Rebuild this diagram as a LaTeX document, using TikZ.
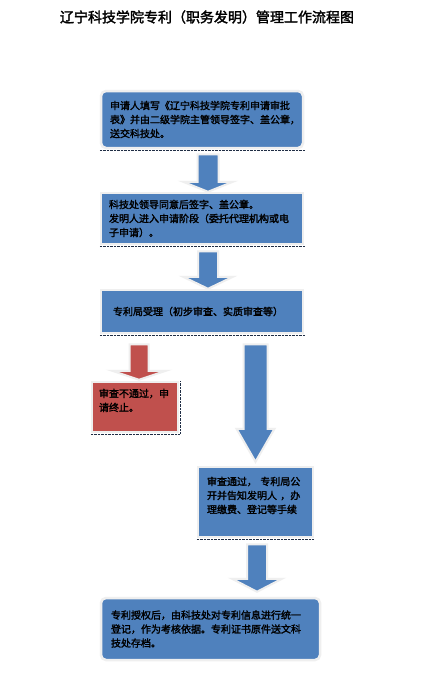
\documentclass[tikz,border=0pt]{standalone}
\usepackage{fontspec}
\newfontfamily\cjk[AutoFakeBold=2]{Noto Sans CJK SC}
\usetikzlibrary{calc}
\definecolor{Steel}{HTML}{4F81BD}
\definecolor{Brick}{HTML}{C0504D}
\definecolor{Glow}{HTML}{EFEFEF}
\definecolor{Ink}{HTML}{1F2D44}
\tikzset{
  stepbox/.style={draw=Glow, line width=2.5pt, fill=#1, align=left,
    inner xsep=9pt, text=black, font=\cjk\bfseries\fontsize{10}{14}\selectfont},
  stepbox/.default={Steel},
  fatarr/.style n args={3}{draw=Glow, line width=2pt,
    to path={let \p1=(\tikztostart), \p2=(\tikztotarget) in
      (\x1-#1,\y1) -- (\x1+#1,\y1) -- (\x1+#1,\y2+#3) -- (\x1+#2,\y2+#3)
      -- (\x1,\y2) -- (\x1-#2,\y2+#3) -- (\x1-#1,\y2+#3) -- cycle}},
}

\begin{document}
\begin{tikzpicture}[x=1pt, y=-1pt,
  shade/.style={draw=Ink, line width=0.7pt, dash pattern=on 0.7pt off 0.7pt},
]
  \useasboundingbox[fill=white] (0,0) rectangle (433,693);
  \node[font=\cjk\bfseries\fontsize{14}{16}\selectfont] (title) at (207,17)
    {辽宁科技学院专利（职务发明）管理工作流程图};

  % steps
  \node[stepbox, rounded corners=5pt, text width=184pt, minimum height=57pt] (apply) at (202,119.5)
    {申请人填写《辽宁科技学院专利申请审批\\表》并由二级学院主管领导签字、盖公章，\\送交科技处。};
  \node[stepbox, text width=186pt, inner xsep=8pt, minimum height=51pt] (approve) at (202,218.5)
    {科技处领导同意后签字、盖公章。\\发明人进入申请阶段（委托代理机构或电\\子申请）。};
  \node[stepbox, text width=178pt, inner xsep=12pt, minimum height=43pt] (accept) at (202,311.5)
    {专利局受理（初步审查、实质审查等）};
  \node[stepbox=Brick, text width=72pt, inner xsep=7pt, minimum height=50pt] (fail) at (135,407)
    {审查不通过，申\\请终止。\\\mbox{}};
  \node[stepbox, text width=97pt, minimum height=70pt] (pass) at (255.5,502)
    {审查通过， 专利局公\\开并告知发明人 ，办\\理缴费、登记等手续\\\mbox{}};
  \node[stepbox, rounded corners=5pt, text width=199pt, inner xsep=10pt, minimum height=62pt] (grant) at (210.5,629)
    {专利授权后，由科技处对专利信息进行统一\\登记，作为考核依据。专利证书原件送文科\\技处存档。};

  \foreach \b in {apply,approve,accept,pass}
    \draw[shade] ([yshift=-0.8pt]\b.south west) -- ([yshift=-0.8pt]\b.south east);
  \draw[shade] ([yshift=-0.8pt]fail.south west) -- ([shift={(0.8pt,-0.8pt)}]fail.south east)
    -- ([xshift=0.8pt]fail.north east);

  % block arrows
  \draw[fatarr={10.5pt}{25pt}{10pt}, fill=Steel] ([xshift=6pt,yshift=-5pt]apply.south) to ([xshift=6pt]approve.north);
  \draw[fatarr={10pt}{25pt}{12pt}, fill=Steel] ([xshift=6pt,yshift=-6pt]approve.south) to ([xshift=6pt]accept.north);
  \draw[fatarr={9.5pt}{27pt}{9pt}, fill=Brick] ($(fail.north|-accept.south)+(4,10)$) to ($(fail.north)+(4,-1)$);
  \draw[fatarr={12pt}{19pt}{33pt}, fill=Steel] ($(pass.north|-accept.south)+(0,10)$) to ($(pass.north)+(0,-4)$);
  \draw[fatarr={10pt}{25pt}{13pt}, fill=Steel] ($(pass.south|-pass.south)+(1.5,6)$) to ($(pass.south|-grant.north)+(1.5,-5)$);
\end{tikzpicture}
\end{document}
